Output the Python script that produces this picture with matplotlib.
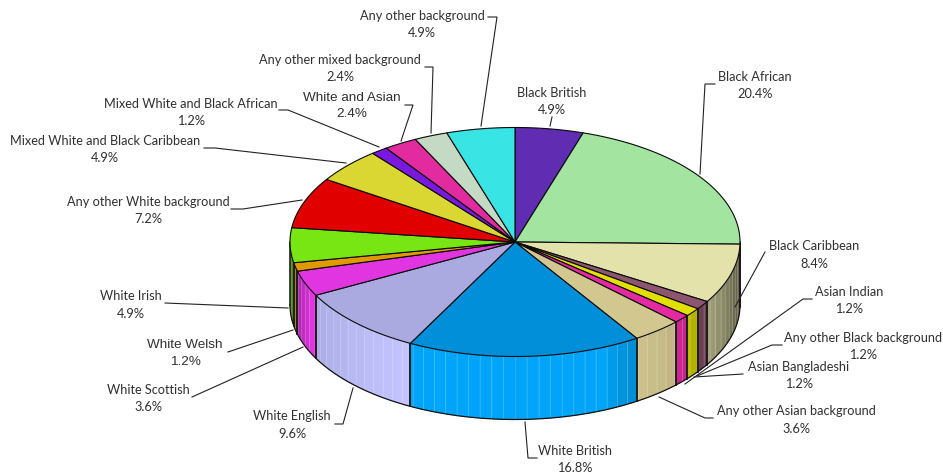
import numpy as np
import matplotlib
matplotlib.use("Agg")
import matplotlib.pyplot as plt

categories = ["Black British", "Black African", "Black Caribbean", "Asian Indian",
              "Any other Black background", "Asian Bangladeshi", "Any other Asian background",
              "White British", "White English", "White Scottish", "White Welsh", "White Irish",
              "Any other White background", "Mixed White and Black Caribbean",
              "Mixed White and Black African", "White and Asian",
              "Any other mixed background", "Any other background"]
values = [4.9, 20.4, 8.4, 1.2, 1.2, 1.2, 3.6, 16.8, 9.6, 3.6, 1.2, 4.9, 7.2, 4.9, 1.2, 2.4, 2.4, 4.9]
colors = ["#5f2cb2", "#a2e4a0", "#e3e2aa", "#8e5570", "#e2e000", "#e32aa0", "#d2c78f",
          "#008fd8", "#aaaae0", "#e235e2", "#e09a00", "#78e612", "#e00000", "#dad733",
          "#7a18de", "#e22b9f", "#c4dac4", "#38e4e4"]

# Pie geometry in pixel units
CX, CY, RX, RY, DEPTH = 515.0, 243.0, 225.0, 114.5, 63.0

# label centre x, first line y, second line y, leader polyline
label_layout = {
    "Black British": (552, 93, 110, [(552, 118), (550, 127)]),
    "Black African": (755, 77, 94, [(715, 85), (705, 85), (700, 175)]),
    "Black Caribbean": (814, 246, 264, [(765, 253), (735, 308)]),
    "Asian Indian": (849, 292, 309, [(812, 300), (803, 300), (685, 385)]),
    "Any other Black background": (863, 338, 355, [(782, 346), (772, 346), (697, 377)]),
    "Asian Bangladeshi": (799, 367, 384, [(743, 375), (694, 378)]),
    "Any other Asian background": (796, 411, 429, [(713, 419), (705, 419), (659, 398)]),
    "White British": (575, 451, 468, [(537, 459), (528, 459), (525, 423)]),
    "White English": (292, 416, 434, [(335, 425), (343, 425), (353, 389)]),
    "White Scottish": (148, 390, 407, [(192, 398), (303, 348)]),
    "White Welsh": (185, 345, 362, [(228, 353), (293, 331)]),
    "White Irish": (131, 296, 314, [(165, 304), (288, 309)]),
    "Any other White background": (148, 202, 219, [(231, 210), (243, 210), (302, 201)]),
    "Mixed White and Black Caribbean": (105, 141, 158, [(204, 149), (215, 149), (346, 164)]),
    "Mixed White and Black African": (191, 104, 121, [(279, 111), (288, 111), (379, 148)]),
    "White and Asian": (352, 98, 114, [(405, 106), (413, 106), (401, 142)]),
    "Any other mixed background": (340, 60, 77, [(425, 68), (433, 68), (431, 134)]),
    "Any other background": (422, 16, 33, [(488, 18), (497, 18), (481, 127)]),
}
wide_labels = {"White and Asian", "White Welsh"}

fig = plt.figure(figsize=(9.43, 4.77), dpi=100, facecolor="white")
ax = fig.add_axes([0, 0, 1, 1])
ax.set_xlim(0, 943)
ax.set_ylim(477, 0)
ax.axis("off")


def rim(theta):
    return CX + RX * np.sin(theta), CY - RY * np.cos(theta)


def side_shade(theta):
    # brightness of the rim follows its horizontal position
    return np.interp(np.sin(theta),
                     [-1.0, -0.97, -0.9, -0.82, -0.5, 0.38, 0.5, 0.62, 0.74, 0.79, 0.84, 0.93, 1.0],
                     [0.50, 0.75, 1.00, 1.05, 1.15, 1.15, 1.00, 0.95, 0.90, 0.80, 0.74, 0.60, 0.40])


edges = np.radians(np.concatenate([[0], np.cumsum(values)]) * 3.6)
STEP = np.radians(3.0)
lo, hi = np.pi / 2, 3 * np.pi / 2
facet_angles = np.arange(lo, hi, STEP)

# Rim facets, only on the half of the pie facing the viewer
for a0, a1, col in zip(edges[:-1], edges[1:], colors):
    s0, s1 = max(a0, lo), min(a1, hi)
    if s0 >= s1:
        continue
    base = np.array(matplotlib.colors.to_rgb(col))
    inner = facet_angles[(facet_angles > s0) & (facet_angles < s1)]
    cuts = np.concatenate([[s0], inner, [s1]])
    for t0, t1 in zip(cuts[:-1], cuts[1:]):
        tt = np.linspace(t0, t1, 6)
        x, y = rim(tt)
        shade = np.clip(base * side_shade((t0 + t1) / 2), 0, 1)
        ax.fill(np.r_[x, x[::-1]], np.r_[y, y[::-1] + DEPTH], color=shade, lw=0.3, zorder=1)
        lx, ly = rim(t0)
        if t0 > s0:
            ax.plot([lx, lx], [ly, ly + DEPTH], color="white", alpha=0.16, lw=0.7, zorder=1.5)
    for t in (s0, s1):
        lx, ly = rim(t)
        ax.plot([lx, lx], [ly, ly + DEPTH], color="#1a1a1a", lw=1.1, zorder=2)

# Lower outline of the rim
tt = np.linspace(lo, hi, 300)
x, y = rim(tt)
ax.plot(x, y + DEPTH, color="#111111", lw=0.9, zorder=2)

# Top face slices
for a0, a1, col in zip(edges[:-1], edges[1:], colors):
    tt = np.linspace(a0, a1, max(int(np.degrees(a1 - a0)), 4))
    x, y = rim(tt)
    ax.fill(np.r_[CX, x], np.r_[CY, y], facecolor=col, edgecolor="#0a0a0a",
            lw=0.8, joinstyle="round", zorder=3)

# Labels and leader lines
for name, val in zip(categories, values):
    cx, y1, y2, pts = label_layout[name]
    wide = name in wide_labels
    fam = "Liberation Sans" if wide else "Lato"
    size = 9.7 if wide else 9.15
    ax.text(cx, y1, name, ha="center", va="center", family=fam, fontsize=size, color="#303030", zorder=5)
    ax.text(cx, y2, f"{val:.1f}%", ha="center", va="center", family=fam, fontsize=size, color="#303030", zorder=5)
    ax.plot(*zip(*pts), color="#222222", lw=0.8, zorder=4, solid_joinstyle="miter")

fig.savefig("out.png", dpi=100, facecolor="white")
